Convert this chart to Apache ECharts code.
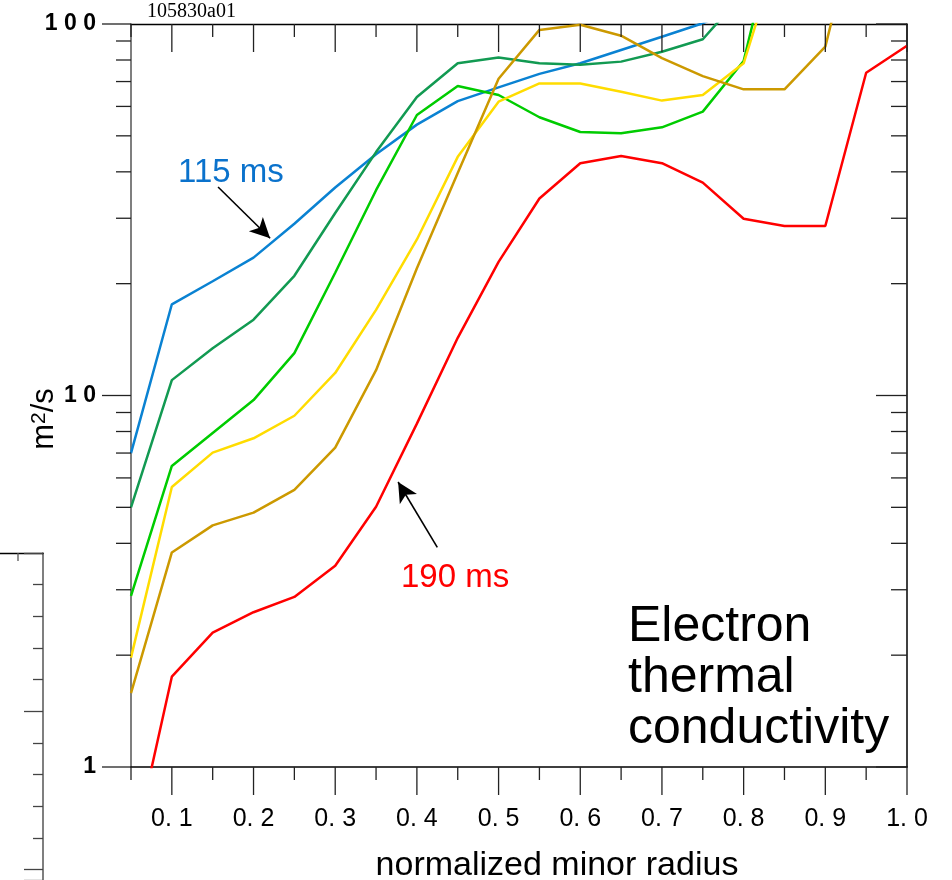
<!DOCTYPE html>
<html>
<head>
<meta charset="utf-8">
<script src="https://cdn.jsdelivr.net/npm/echarts@6/dist/echarts.min.js"></script>
<style>html,body{margin:0;padding:0;background:#fff}#c{width:952px;height:880px}</style>
</head>
<body>
<div id="c"></div>
<script>
// ---- data (normalized minor radius vs electron thermal conductivity, m2/s) ----
var radius = [0.05,0.10,0.15,0.20,0.25,0.30,0.35,0.40,0.45,0.50,0.55,0.60,0.65,0.70,0.75,0.80,0.85,0.90,0.95,1.00];
var chi115 = [7.0,17.6,20.3,23.5,29.0,36.3,44.6,53.6,62.0,67.5,73.4,78.4,85.1,92.4,100.5,112,null,null,null,null];
var chiDarkGreen = [5.0,11.0,13.4,16.0,21.0,31.0,45.2,63.6,78.4,81.2,78.4,77.7,79.2,84.2,91.0,121,null,null,null,null];
var chiGreen = [2.89,6.46,7.93,9.72,13.0,21.4,35.7,56.9,68.1,64.4,56.1,51.2,50.8,52.7,58.1,79.5,225,null,null,null];
var chiYellow = [1.97,5.67,7.02,7.67,8.82,11.5,17.0,26.3,43.9,61.8,69.2,69.2,65.7,62.2,64.4,78.4,176,null,null,null];
var chiGold = [1.58,3.78,4.47,4.84,5.57,7.24,11.7,22.0,39.7,71.2,96.4,99.5,93.0,80.9,72.4,66.7,66.7,86.9,240,null];
var chi190 = [0.56,1.75,2.30,2.61,2.87,3.48,5.02,8.4,14.3,22.9,33.9,42.2,44.1,42.2,37.4,29.9,28.6,28.6,73.9,87.4];

// axis ticks
var xMajorTicks = [0.1,0.2,0.3,0.4,0.5,0.6,0.7,0.8,0.9,1.0];
var xMinorTicks = [0.05,0.15,0.25,0.35,0.45,0.55,0.65,0.75,0.85,0.95];
var yMajorTicks = [1,10,100];
var yMinorTicks = [2,3,4,5,6,7,8,9,20,30,40,50,60,70,80,90];
var yTickLabels = {1:'1', 10:'1 0', 100:'1 0 0'};
// neighbouring (cropped) panel's axis ticks
var strayTopTicks = [18];

// annotation arrows (data coordinates)
var arrow115 = [[0.1566,36.4],[0.2203,26.5]];
var arrow190 = [[0.425,3.9],[0.377,5.85]];

function pairs(vals){ return radius.map(function(x,i){ return [x, vals[i]]; }); }

var tickData = [];
xMajorTicks.forEach(function(v){ tickData.push([v,1,0]); });
xMinorTicks.forEach(function(v){ tickData.push([v,1,1]); });
yMajorTicks.forEach(function(v){ tickData.push([0.05,v,2]); });
yMinorTicks.forEach(function(v){ tickData.push([0.05,v,3]); });

var chart = echarts.init(document.getElementById('c'), null, {renderer:'canvas'});
var tickStyle = {stroke:'#222', lineWidth:1.3};

function lineSeries(name, vals, color, extra){
  var s = {
    name:name, type:'line', data:pairs(vals), symbol:'none', clip:true,
    lineStyle:{color:color, width:2.5}, itemStyle:{color:color},
    xAxisIndex:0, yAxisIndex:0, z:3
  };
  if (extra) for (var k in extra) s[k]=extra[k];
  return s;
}
function arrowLine(a){
  return {
    silent:true, symbol:['none','arrow'], symbolSize:[15,20],
    label:{show:false}, lineStyle:{color:'#000', width:1.6, type:'solid'},
    emphasis:{disabled:true},
    data:[[{coord:a[0]},{coord:a[1]}]]
  };
}

var option = {
  animation:false,
  backgroundColor:'#fff',
  grid:[
    {left:131, top:24, width:776, height:743, outerBoundsMode:'none', containLabel:false},
    {left:0, top:553, width:43, height:327, outerBoundsMode:'none', containLabel:false}
  ],
  xAxis:[
    {type:'value', gridIndex:0, position:'bottom', min:0.05, max:1.0, interval:0.05,
     axisLine:{show:true, onZero:false, lineStyle:{color:'#000', width:1.5}},
     axisTick:{show:false}, splitLine:{show:false},
     axisLabel:{show:true, interval:0, margin:40, showMinLabel:true, showMaxLabel:true,
       fontFamily:'Liberation Sans, Arial, sans-serif', fontSize:25, color:'#000',
       formatter:function(v){ var r=Math.round(v*100); return (r%10===0)?(r/100).toFixed(1).replace('.', '. '):''; }}
    },
    {type:'value', gridIndex:0, position:'top', min:0.05, max:1.0, interval:0.05,
     axisLine:{show:true, onZero:false, lineStyle:{color:'#000', width:1.3}},
     axisTick:{show:false}, axisLabel:{show:false}, splitLine:{show:false}},
    {type:'value', gridIndex:1, position:'top', min:0, max:43,
     axisLine:{show:true, onZero:false, lineStyle:{color:'#000', width:1.3}},
     axisTick:{show:false}, axisLabel:{show:false}, splitLine:{show:false}}
  ],
  yAxis:[
    {type:'log', logBase:10, gridIndex:0, position:'left', min:1, max:100,
     axisLine:{show:true, lineStyle:{color:'#555', width:1.5}},
     axisTick:{show:false}, splitLine:{show:false}, minorTick:{show:false},
     axisLabel:{show:true, margin:35, padding:[9,0,0,0], fontFamily:'Liberation Sans, Arial, sans-serif', fontSize:23, fontWeight:'bold', color:'#000',
       formatter:function(v){ return yTickLabels[Math.round(v)] || ''; }}
    },
    {type:'log', logBase:10, gridIndex:0, position:'right', min:1, max:100,
     axisLine:{show:true, lineStyle:{color:'#000', width:1.5}},
     axisTick:{show:false}, axisLabel:{show:false}, splitLine:{show:false}},
    {type:'value', gridIndex:1, position:'right', inverse:true, min:0, max:10.33, interval:5,
     axisLine:{show:true, onZero:false, lineStyle:{color:'#555', width:1.5}},
     axisTick:{show:true, inside:true, length:19, lineStyle:{color:'#444', width:1.3}},
     minorTick:{show:true, splitNumber:5, length:10, lineStyle:{color:'#444', width:1.3}},
     axisLabel:{show:false}, splitLine:{show:false}}
  ],
  series:[
    {
      name:'ticks', type:'custom', xAxisIndex:0, yAxisIndex:0, clip:false, silent:true, z:5,
      data:tickData,
      renderItem:function(params, api){
        var kind = api.value(2), children = [];
        if (kind === 0 || kind === 1){
          var L = kind===0 ? 28 : 13;
          var pb = api.coord([api.value(0), 1]);
          var pt = api.coord([api.value(0), 100]);
          children.push({type:'line', shape:{x1:pb[0],y1:pb[1],x2:pb[0],y2:pb[1]+L}, style:tickStyle});
          children.push({type:'line', shape:{x1:pt[0],y1:pt[1],x2:pt[0],y2:pt[1]+L}, style:tickStyle});
        } else {
          var Ll = kind===2 ? 29 : 15, Lr = kind===2 ? 31 : 16;
          var pl = api.coord([0.05, api.value(1)]);
          var pr = api.coord([1.0, api.value(1)]);
          children.push({type:'line', shape:{x1:pl[0]-Ll,y1:pl[1],x2:pl[0],y2:pl[1]}, style:tickStyle});
          children.push({type:'line', shape:{x1:pr[0]-Lr,y1:pr[1],x2:pr[0],y2:pr[1]}, style:tickStyle});
        }
        return {type:'group', children:children};
      }
    },
    {
      name:'strayTicks', type:'custom', xAxisIndex:2, yAxisIndex:2, clip:false, silent:true, z:5,
      data:strayTopTicks.map(function(v){ return [v, 0]; }),
      renderItem:function(params, api){
        var p = api.coord([api.value(0), 0]);
        return {type:'line', shape:{x1:p[0],y1:p[1],x2:p[0],y2:p[1]+8}, style:{stroke:'#555', lineWidth:1.3}};
      }
    },
    lineSeries('115 ms', chi115, '#0a82d2', {markLine:arrowLine(arrow115)}),
    lineSeries('dark green', chiDarkGreen, '#129a52'),
    lineSeries('green', chiGreen, '#00cc00'),
    lineSeries('yellow', chiYellow, '#ffdc00'),
    lineSeries('gold', chiGold, '#cc9900'),
    lineSeries('190 ms', chi190, '#ff0000', {markLine:arrowLine(arrow190)})
  ],
  graphic:[
    {type:'text', x:147, y:22, style:{text:'105830a01', font:'20px "Liberation Serif", "Times New Roman", serif', fill:'#000', textVerticalAlign:'bottom'}},
    {type:'text', x:178, y:173, style:{text:'115 ms', font:'33px "Liberation Sans", Arial, sans-serif', fill:'#0a72cc', textVerticalAlign:'middle'}},
    {type:'text', x:401, y:578, style:{text:'190 ms', font:'33px "Liberation Sans", Arial, sans-serif', fill:'#ff0000', textVerticalAlign:'middle'}},
    {type:'text', x:628, y:602, style:{text:'Electron\nthermal\nconductivity', font:'50px "Liberation Sans", Arial, sans-serif', lineHeight:51, fill:'#000', textVerticalAlign:'top'}},
    {type:'text', x:557, y:866, style:{text:'normalized minor radius', font:'34px "Liberation Sans", Arial, sans-serif', fill:'#000', textAlign:'center', textVerticalAlign:'middle'}},
    {type:'text', x:44, y:419, rotation:Math.PI/2,
     style:{text:'m{s|2}/s', font:'31px "Liberation Sans", Arial, sans-serif', fill:'#000', textAlign:'center', textVerticalAlign:'middle',
       rich:{s:{fontSize:21, verticalAlign:'top', fontFamily:'Liberation Sans'}}}}
  ]
};
chart.setOption(option);
</script>
</body>
</html>
